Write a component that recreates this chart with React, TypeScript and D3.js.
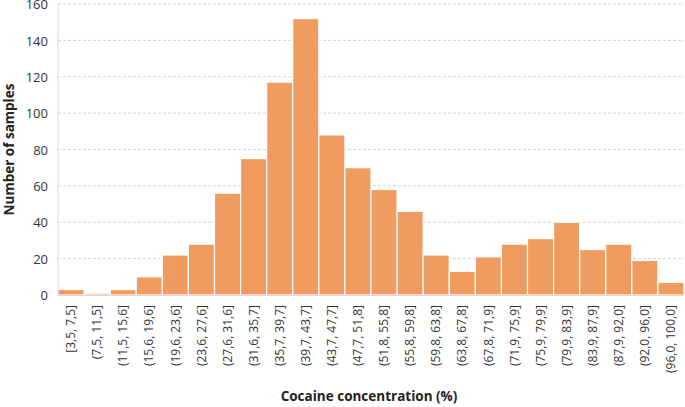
import React from "react";
import * as d3 from "d3";

const categories: string[] = [
  "[3,5, 7,5]", "(7,5, 11,5]", "(11,5, 15,6]", "(15,6, 19,6]", "(19,6, 23,6]",
  "(23,6, 27,6]", "(27,6, 31,6]", "(31,6, 35,7]", "(35,7, 39,7]", "(39,7, 43,7]",
  "(43,7, 47,7]", "(47,7, 51,8]", "(51,8, 55,8]", "(55,8, 59,8]", "(59,8, 63,8]",
  "(63,8, 67,8]", "(67,8, 71,9]", "(71,9, 75,9]", "(75,9, 79,9]", "(79,9, 83,9]",
  "(83,9, 87,9]", "(87,9, 92,0]", "(92,0, 96,0]", "(96,0, 100,0]",
];
const counts: number[] = [
  3, 1, 3, 10, 22, 28, 56, 75, 117, 152, 88, 70, 58, 46, 22, 13, 21, 28, 31, 40, 25, 28, 19, 7,
];
const yTicks: number[] = [0, 20, 40, 60, 80, 100, 120, 140, 160];

const W = 685;
const H = 407;
const M = { left: 58, right: 1, top: 4, bottom: 112 };
const FONT = "'Open Sans', 'Noto Sans', sans-serif";

export default function App() {
  const x = d3
    .scaleBand<string>()
    .domain(categories)
    .range([M.left, W - M.right])
    .padding(0);
  const y = d3.scaleLinear().domain([0, 160]).range([H - M.bottom, M.top]);
  const y0 = y(0);

  return (
    <div style={{ position: "absolute", left: 0, top: 0 }}>
      <svg width={W} height={H} style={{ display: "block", background: "#fff" }}>
        {yTicks.map((t) =>
          t === 0 ? null : (
            <line
              key={"g" + t}
              x1={M.left}
              x2={W - M.right}
              y1={y(t)}
              y2={y(t)}
              stroke="#d4d4d4"
              strokeWidth={1}
              strokeDasharray="3,2"
            />
          )
        )}
        {yTicks.map((t) => (
          <text
            key={"t" + t}
            x={48}
            y={y(t)}
            dy="0.4em"
            textAnchor="end"
            fontFamily={FONT}
            fontSize={13}
            fill="#333"
          >
            {t}
          </text>
        ))}
        {categories.map((c, i) => (
          <rect
            key={c}
            x={x(c)!}
            y={y(counts[i])}
            width={x.bandwidth()}
            height={y0 - y(counts[i])}
            fill="#F09B5F"
            stroke="#fff"
            strokeWidth={1.2}
          />
        ))}
        <line x1={M.left} x2={M.left} y1={M.top} y2={y0} stroke="#d9d9d9" strokeWidth={1} />
        <line x1={M.left} x2={W - M.right} y1={y0 + 0.5} y2={y0 + 0.5} stroke="#d9d9d9" strokeWidth={1} />
        {categories.map((c) => (
          <text
            key={"x" + c}
            transform={`translate(${x(c)! + x.bandwidth() / 2},${305}) rotate(-90)`}
            dy="0.35em"
            textAnchor="end"
            fontFamily={FONT}
            fontSize={12}
            fill="#333"
          >
            {c}
          </text>
        ))}
        <text
          x={(M.left + W - M.right) / 2 - 2}
          y={401}
          textAnchor="middle"
          fontFamily={FONT}
          fontWeight="bold"
          fontSize={13.5}
          fill="#222"
        >
          Cocaine concentration (%)
        </text>
        <text
          transform={`translate(9,${(M.top + y0) / 2}) rotate(-90)`}
          dy="0.35em"
          textAnchor="middle"
          fontFamily={FONT}
          fontWeight="bold"
          fontSize={13.5}
          fill="#222"
        >
          Number of samples
        </text>
      </svg>
    </div>
  );
}
